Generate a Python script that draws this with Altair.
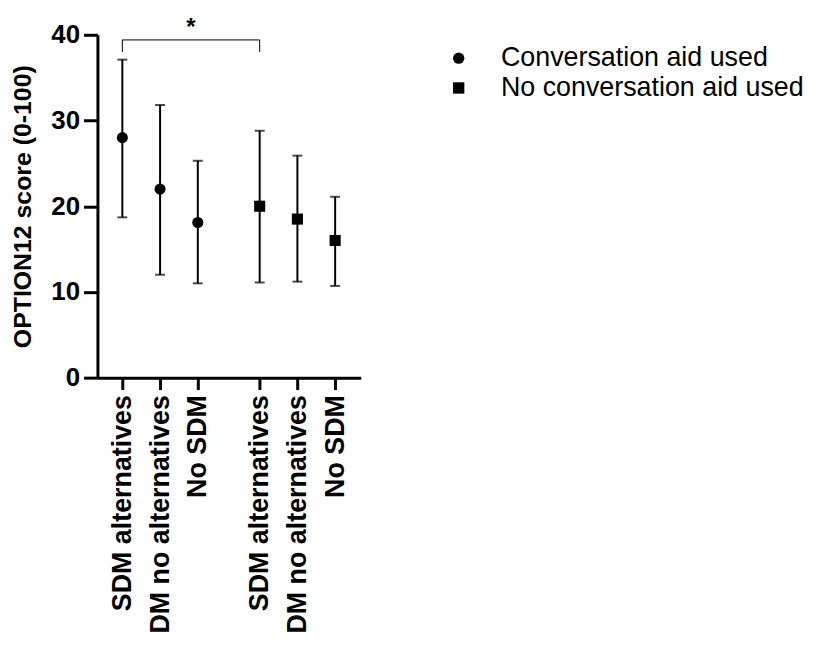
import altair as alt
import pandas as pd

categories = ["SDM alternatives", "SDM no alternatives", "No SDM",
              "SDM alternatives", "SDM no alternatives", "No SDM"]
groups = ["Conversation aid used"] * 3 + ["No conversation aid used"] * 3
positions = [0, 1, 2, 3.64, 4.64, 5.64]
means = [28.0, 22.0, 18.1, 20.0, 18.5, 16.0]
lower = [18.7, 12.0, 11.0, 11.1, 11.2, 10.7]
upper = [37.1, 31.8, 25.3, 28.8, 25.9, 21.1]

bracket_x = [0, 0, 3.64, 3.64]
bracket_y = [38.0, 39.4, 39.4, 38.0]
bracket_order = [0, 1, 2, 3]
star_x = [1.82]
star_y = [40.0]
star_text = ["*"]

df = pd.DataFrame({"pos": positions, "cat": categories, "group": groups,
                   "mean": means, "lo": lower, "hi": upper})
bdf = pd.DataFrame({"x": bracket_x, "y": bracket_y, "o": bracket_order})
sdf = pd.DataFrame({"x": star_x, "y": star_y, "t": star_text})

FONT = "Liberation Sans"

label_expr = "''"
for p, c in reversed(list(zip(positions, categories))):
    label_expr = f"abs(datum.value - {p}) < 0.01 ? '{c}' : ({label_expr})"

xscale = alt.Scale(domain=[-0.66, 6.32], nice=False, zero=False)
yscale = alt.Scale(domain=[0, 40], nice=False)

xaxis = alt.Axis(values=positions, labelExpr=label_expr, labelAngle=-90,
                 labelAlign="right", labelBaseline="middle",
                 labelFont=FONT, labelFontSize=27, labelFontWeight="bold",
                 labelColor="black", labelPadding=5, grid=False,
                 domainColor="black", domainWidth=3, tickColor="black",
                 tickWidth=3, tickSize=12, title=None, labelOverlap=False,
                 labelBound=False, labelFlush=False, labelLimit=0)
yaxis = alt.Axis(values=[0, 10, 20, 30, 40], labelFont=FONT, labelFontSize=26,
                 labelFontWeight="bold", labelColor="black", labelPadding=4,
                 grid=False, domainColor="black", domainWidth=3,
                 tickColor="black", tickWidth=3, tickSize=14,
                 title="OPTION12 score (0-100)", titleFont=FONT,
                 titleFontSize=25, titleFontWeight="bold", titleColor="black",
                 titlePadding=15, labelFlush=False)

base = alt.Chart(df)

rules = base.mark_rule(color="black", strokeWidth=2).encode(
    x=alt.X("pos:Q", scale=xscale, axis=xaxis),
    y=alt.Y("lo:Q", scale=yscale, axis=yaxis),
    y2="hi:Q",
)
caps_lo = base.mark_tick(color="black", thickness=2, size=10, orient="horizontal").encode(
    x=alt.X("pos:Q", scale=xscale), y=alt.Y("lo:Q", scale=yscale))
caps_hi = base.mark_tick(color="black", thickness=2, size=10, orient="horizontal").encode(
    x=alt.X("pos:Q", scale=xscale), y=alt.Y("hi:Q", scale=yscale))

points = base.mark_point(filled=True, color="black", opacity=1, size=125).encode(
    x=alt.X("pos:Q", scale=xscale),
    y=alt.Y("mean:Q", scale=yscale),
    shape=alt.Shape("group:N",
                    scale=alt.Scale(domain=["Conversation aid used", "No conversation aid used"],
                                    range=["circle", "square"]),
                    legend=alt.Legend(orient="none", legendX=350, legendY=10,
                                      title=None, labelFont=FONT, labelFontSize=27,
                                      labelColor="black", symbolSize=130,
                                      symbolFillColor="black", symbolStrokeColor="black",
                                      symbolStrokeWidth=0, labelOffset=29,
                                      rowPadding=2, padding=0, labelLimit=0)),
)

bracket = alt.Chart(bdf).mark_line(color="black", strokeWidth=1).encode(
    x=alt.X("x:Q", scale=xscale), y=alt.Y("y:Q", scale=yscale), order="o:Q")

star = alt.Chart(sdf).mark_text(font=FONT, fontSize=24, fontWeight="bold",
                                color="black", baseline="alphabetic").encode(
    x=alt.X("x:Q", scale=xscale), y=alt.Y("y:Q", scale=yscale), text="t:N")

chart = alt.layer(rules, caps_lo, caps_hi, points, bracket, star).properties(
    width=265, height=345,
    autosize=alt.AutoSizeParams(type="none"),
    padding={"left": 90, "top": 25, "right": 450, "bottom": 255},
).configure_view(stroke=None)

chart.save("out.html", embed_options={"renderer": "svg", "actions": False})
